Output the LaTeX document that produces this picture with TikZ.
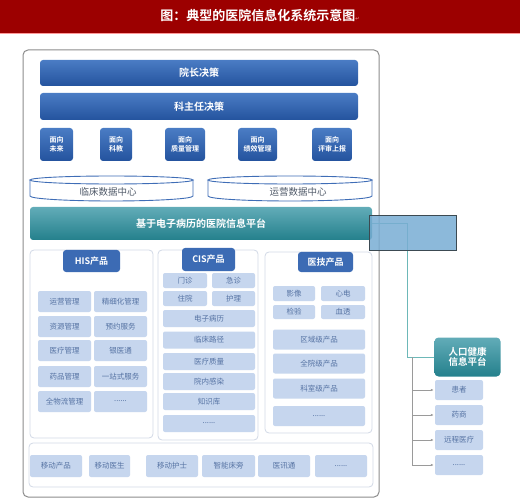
\documentclass[tikz,border=0pt]{standalone}
\usepackage{fontspec}
\setmainfont{Noto Sans CJK SC}
\newfontfamily\cjkbold{Noto Sans CJK SC Bold}
\newfontfamily\symfont{DejaVu Sans}
\usetikzlibrary{arrows.meta}

\definecolor{titlered}{HTML}{9C0000}
\definecolor{barlight}{HTML}{4A7CC4}
\definecolor{bardark}{HTML}{24539E}
\definecolor{headblue}{HTML}{3C6BB4}
\definecolor{itemfill}{HTML}{C6D6EE}
\definecolor{itemtext}{HTML}{5673A3}
\definecolor{panelline}{HTML}{D2D9E6}
\definecolor{framegrey}{HTML}{8C8C8C}
\definecolor{cylline}{HTML}{3F6DB6}
\definecolor{dctext}{HTML}{4F5968}
\definecolor{teallight}{HTML}{62ACB8}
\definecolor{tealdark}{HTML}{24808C}
\definecolor{ovlfill}{HTML}{78ADD3}
\definecolor{ovlline}{HTML}{3C4A52}
\definecolor{treegrey}{HTML}{9A9A9A}
\definecolor{tealconn}{HTML}{6DB8B8}

\newcommand{\etcdots}{......}

\tikzset{
    bigbar/.style={rounded corners=3pt, top color=barlight, bottom color=bardark,
        text=white, font=\cjkbold\fontsize{10}{10}\selectfont,
        minimum width=318pt, inner sep=0pt},
    facebox/.style={rounded corners=3pt, top color=barlight, bottom color=bardark,
        text=white, font=\cjkbold\fontsize{7}{9}\selectfont, align=center,
        minimum height=33pt, inner sep=0pt},
    header/.style={rounded corners=3pt, fill=headblue, text=white,
        font=\cjkbold\fontsize{9}{9}\selectfont, inner sep=0pt},
    item/.style={rounded corners=2pt, fill=itemfill, text=itemtext,
        font=\fontsize{7.5}{8}\selectfont, inner sep=0pt},
    panel/.style={draw=panelline, line width=0.8pt, rounded corners=4pt, fill=white},
    cyl/.style={draw=cylline, line width=0.9pt},
    conn/.style={draw=tealconn, line width=0.9pt},
    treeline/.style={draw=treegrey, line width=0.8pt},
}

\begin{document}
\begin{tikzpicture}[x=1pt, y=-1pt, >={Latex[length=3pt,width=2.5pt]}]

\useasboundingbox (0,0) rectangle (520,500);

% ---- Title banner ----
            \fill[titlered] (0,0) rectangle (520,33);
            \draw[red!40, line width=0.8pt] (0,33) -- (520,33);
            \node[text=white, font=\cjkbold\fontsize{13}{13}\selectfont] (ttl) at (260,16)
                {图：典型的医院信息化系统示意图{\symfont\fontsize{5}{5}\selectfont\color{red!35}↵}};

% ---- Outer frame ----
            \draw[framegrey, line width=1pt, rounded corners=5pt] (23,50) rectangle (379,497);

% ---- Decision bars ----
            \node[bigbar, minimum height=26pt] (yz) at (199,73) {院长决策};
            \node[bigbar, minimum height=27pt] (kzr) at (199,106.5) {科主任决策};

% ---- Facing boxes ----
            \foreach \n/\cx/\w/\lab in {mx1/56.5/33/未来, mx2/116/32/科教, mx3/185/40/质量管理,
                                        mx4/257.5/39/绩效管理, mx5/332/40/评审上报} {
                \node[facebox, minimum width=\w pt] (\n) at (\cx,144.5) {面向\\\lab};
            }

% ---- Data centres (flat cylinders) ----
            \draw[cyl] (111.5,180) ellipse [x radius=81.5, y radius=4];
            \draw[cyl] (30,180) -- (30,196) arc[start angle=180, end angle=0, x radius=81.5, y radius=5] -- (193,180);
            \node[text=dctext, font=\fontsize{9.5}{10}\selectfont] (lcdc) at (108,192) {临床数据中心};

            \draw[cyl] (290,180) ellipse [x radius=82, y radius=4];
            \draw[cyl] (208,180) -- (208,196) arc[start angle=180, end angle=0, x radius=82, y radius=5] -- (372,180);
            \node[text=dctext, font=\fontsize{9.5}{10}\selectfont] (yydc) at (298,192) {运营数据中心};

% ---- EMR platform ----
            \node[rounded corners=3pt, top color=teallight, bottom color=tealdark, text=white,
                  font=\cjkbold\fontsize{10}{10}\selectfont, minimum width=342pt, minimum height=33pt,
                  inner sep=0pt] (ptf) at (201,223.5) {基于电子病历的医院信息平台};

% ---- Product panels ----
            \draw[panel] (30,250) rectangle (153,438);
            \draw[panel] (158,250) rectangle (258,440);
            \draw[panel] (265,252) rectangle (372,433);
            \draw[panel] (29,443) rectangle (373,487);

            \node[header, minimum width=57pt, minimum height=22pt] (his) at (91.5,261) {HIS产品};
            \node[header, minimum width=53pt, minimum height=23pt] (cis) at (208.5,259.5) {CIS产品};
            \node[header, minimum width=55pt, minimum height=20pt] (yj) at (325.5,262) {医技产品};

% HIS items
            \foreach \n/\cy/\a/\b in {1/301.5/运营管理/精细化管理, 2/326.5/资源管理/预约服务,
                                      3/350.5/医疗管理/银医通, 4/376.5/药品管理/一站式服务,
                                      5/401.5/全物流管理/\etcdots} {
                \node[item, minimum width=53pt, minimum height=21pt] (hisl\n) at (64.5,\cy) {\a};
                \node[item, minimum width=53pt, minimum height=21pt] (hisr\n) at (120.5,\cy) {\b};
            }

% CIS items
            \node[item, minimum width=44pt, minimum height=15pt] (mz) at (185,280.5) {门诊};
            \node[item, minimum width=43pt, minimum height=15pt] (jz) at (233.5,280.5) {急诊};
            \node[item, minimum width=44pt, minimum height=15pt] (zy) at (185,298.5) {住院};
            \node[item, minimum width=43pt, minimum height=15pt] (hl) at (233.5,298.5) {护理};
            \foreach \n/\cy/\lab in {1/318.5/电子病历, 2/340/临床路径, 3/361.5/医疗质量,
                                     4/381.5/院内感染, 5/401.5/知识库, 6/423.5/\etcdots} {
                \node[item, minimum width=92pt, minimum height=17pt] (cisw\n) at (209,\cy) {\lab};
            }

% Medical technology items
            \node[item, minimum width=42pt, minimum height=15pt] (yx) at (294,293.5) {影像};
            \node[item, minimum width=44pt, minimum height=15pt] (xd) at (343,293.5) {心电};
            \node[item, minimum width=42pt, minimum height=14pt] (jy) at (294,312) {检验};
            \node[item, minimum width=44pt, minimum height=14pt] (xt) at (343,312) {血透};
            \foreach \n/\cy/\lab in {1/339.5/区域级产品, 2/363.5/全院级产品, 3/388.5/科室级产品, 4/416/\etcdots} {
                \node[item, minimum width=92pt, minimum height=20pt] (yjw\n) at (319,\cy) {\lab};
            }

% Mobile items
            \foreach \n/\cx/\w/\lab in {1/56/52/移动产品, 2/109.5/41/移动医生, 3/172/52/移动护士,
                                        4/228.5/53/智能床旁, 5/284/52/医讯通, 6/341/52/\etcdots} {
                \node[item, minimum width=\w pt, minimum height=22pt] (yd\n) at (\cx,466) {\lab};
            }

% ---- Regional health platform ----
            \node[rounded corners=4pt, top color=teallight, bottom color=tealdark, text=white,
                  font=\cjkbold\fontsize{9.5}{10.5}\selectfont, align=center,
                  minimum width=66pt, minimum height=39pt, inner sep=0pt] (rk) at (467.5,357) {人口健康\\信息平台};

            \coordinate (bend) at (407,0);
            \draw[conn] (ptf.east) -| (bend |- rk.west) -- (rk.west);

% ---- Overlay box ----
            \draw[ovlline, line width=1pt, fill=ovlfill, fill opacity=0.85] (369,216) rectangle (456,251);

% ---- Tree of services ----
            \foreach \n/\cy/\lab in {hz/390/患者, ys/415/药商, yc/440/远程医疗, rm/465/\etcdots} {
                \node[item, minimum width=48pt, minimum height=20pt] (\n) at (459,\cy) {\lab};
            }
            \coordinate (trk) at (412,357);
            \draw[treeline] (trk) -- (trk |- rm.west);
            \foreach \n in {hz,ys,yc,rm} {
                \draw[treeline,->] (trk |- \n.west) -- ([xshift=-1pt]\n.west);
            }

        \end{tikzpicture}
\end{document}
